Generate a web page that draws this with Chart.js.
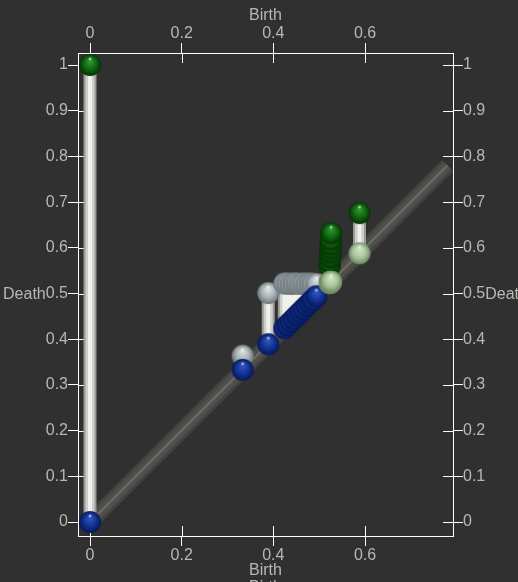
<!DOCTYPE html>
<html>
<head>
<meta charset="utf-8">
<script src="https://cdn.jsdelivr.net/npm/chart.js@4"></script>
<style>
    html, body { margin: 0; padding: 0; background: #303030; }
    #wrap { width: 518px; height: 582px; }
</style>
</head>
<body>
<div id="wrap"><canvas id="diagram" width="518" height="582"></canvas></div>
<script>
// axis ticks
const xTicks = [0, 0.2, 0.4, 0.6];
const yTicks = [0, 0.1, 0.2, 0.3, 0.4, 0.5, 0.6, 0.7, 0.8, 0.9, 1];

// diagonal extent
const diagonalEnd = 0.78;

// global pair (minimum - maximum)
const globalBirth = [0];
const globalDeath = [1];

// minimum - saddle pairs
const minSaddleBirth = [0.333, 0.389, 0.424, 0.431, 0.438, 0.445, 0.452, 0.459, 0.466, 0.473, 0.480, 0.486, 0.494];
const minSaddleDeath = [0.364, 0.501, 0.522, 0.522, 0.521, 0.522, 0.522, 0.521, 0.522, 0.521, 0.522, 0.521, 0.521];

// saddle - maximum pairs
const saddleMaxBirth = [0.523, 0.523, 0.524, 0.524, 0.525, 0.525, 0.525, 0.526, 0.588];
const saddleMaxDeath = [0.560, 0.570, 0.580, 0.590, 0.599, 0.608, 0.618, 0.632, 0.676];

const textColor = '#b8b8b2';
const tickFont = { family: 'Liberation Sans', size: 16 };

function makeSphere(light, base, dark) {
    const R = 11;
    const size = 24;
    const c = document.createElement('canvas');
    c.width = size;
    c.height = size;
    const g = c.getContext('2d');
    const cx = size / 2, cy = size / 2;
    const grad = g.createRadialGradient(cx, cy - R * 0.4, R * 0.05, cx, cy, R);
    grad.addColorStop(0, light);
    grad.addColorStop(0.6, base);
    grad.addColorStop(1, dark);
    g.fillStyle = grad;
    g.beginPath();
    g.arc(cx, cy, R, 0, Math.PI * 2);
    g.fill();
    g.fillStyle = 'rgba(255,255,255,0.6)';
    g.beginPath();
    g.arc(cx, cy - R * 0.55, 1.4, 0, Math.PI * 2);
    g.fill();
    return c;
}

const blueBall = makeSphere('#3556bd', '#11318f', '#061856');
const greenBall = makeSphere('#339a33', '#0d630d', '#053005');
const grayBall = makeSphere('#dde2e4', '#a6b0b4', '#6a7377');
const paleBall = makeSphere('#d2e6c6', '#a6c298', '#6a8862');

const allBirth = globalBirth.concat(minSaddleBirth, saddleMaxBirth);
const allDeath = globalDeath.concat(minSaddleDeath, saddleMaxDeath);

function tubePoints() {
    const pts = [];
    allBirth.forEach((b, i) => {
        pts.push({ x: b, y: b }, { x: b, y: allDeath[i] }, { x: b, y: null });
    });
    return pts;
}

function onDiagonal(births) {
    return births.map(b => ({ x: b, y: b }));
}

function pairs(births, deaths) {
    return births.map((b, i) => ({ x: b, y: deaths[i] }));
}

function lineSet(data, color, width, order) {
    return {
        type: 'line',
        data: data,
        borderColor: color,
        borderWidth: width,
        borderCapStyle: 'butt',
        pointRadius: 0,
        spanGaps: false,
        fill: false,
        clip: false,
        order: order
    };
}

function ballSet(data, ball, order) {
    return {
        type: 'scatter',
        data: data,
        pointStyle: ball,
        pointRadius: 10,
        clip: false,
        order: order
    };
}

const diag = [{ x: 0, y: 0 }, { x: diagonalEnd, y: diagonalEnd }];

const extras = {
    id: 'extras',
    beforeDatasetsDraw(chart) {
        const { ctx, chartArea: a, scales } = chart;
        ctx.save();
        ctx.strokeStyle = '#ffffff';
        ctx.lineWidth = 1;
        ctx.beginPath();
        xTicks.forEach(v => {
            const px = Math.round(scales.x.getPixelForValue(v)) + 0.5;
            ctx.moveTo(px, a.bottom);
            ctx.lineTo(px, a.bottom - 10);
            ctx.moveTo(px, a.top);
            ctx.lineTo(px, a.top + 10);
        });
        yTicks.forEach(v => {
            const py = Math.round(scales.y.getPixelForValue(v)) + 0.5;
            ctx.moveTo(a.left, py);
            ctx.lineTo(a.left + 10, py);
            ctx.moveTo(a.right, py);
            ctx.lineTo(a.right - 10, py);
        });
        ctx.stroke();
        ctx.restore();
    },
    afterDraw(chart) {
        const { ctx, chartArea: a } = chart;
        ctx.save();
        ctx.font = '16px "Liberation Sans"';
        ctx.fillStyle = textColor;
        ctx.textBaseline = 'alphabetic';
        const midX = (a.left + a.right) / 2;
        const midY = (a.top + a.bottom) / 2;
        ctx.textAlign = 'center';
        ctx.fillText('Birth', midX, 20);
        ctx.fillText('Birth', midX, chart.height - 7);
        ctx.fillText('Birth', midX, chart.height + 10);
        const w = ctx.measureText('0.5').width;
        ctx.textAlign = 'right';
        ctx.fillText('Death', a.left - 10 - w, midY + 4);
        ctx.textAlign = 'left';
        ctx.fillText('Death', a.right + 10 + w, midY + 4);
        ctx.restore();
    }
};

function axis(position, min, max, ticks, size) {
    const horizontal = position === 'top' || position === 'bottom';
    return {
        type: 'linear',
        position: position,
        display: true,
        min: min,
        max: max,
        afterBuildTicks: s => { s.ticks = ticks.map(v => ({ value: v })); },
        afterFit: s => {
            if (horizontal) s.height = size;
            else s.width = size;
        },
        grid: {
            drawOnChartArea: false,
            drawTicks: true,
            tickLength: 10,
            color: '#ffffff',
            lineWidth: 1
        },
        border: { display: true, color: '#ffffff', width: 1 },
        ticks: {
            autoSkip: false,
            maxRotation: 0,
            padding: 0,
            color: textColor,
            font: tickFont,
            callback: v => String(v)
        }
    };
}

const xMin = -0.0262, xMax = 0.792;
const yMin = -0.0306, yMax = 1.0263;

new Chart(document.getElementById('diagram'), {
    type: 'scatter',
    data: {
        datasets: [
            lineSet(diag, '#434341', 16, 20),
            lineSet(diag, '#504f4c', 10, 19),
            lineSet(diag, '#6c6c68', 2, 18),
            lineSet(tubePoints(), '#9a9a96', 13, 15),
            lineSet(tubePoints(), '#cdcdc9', 9, 14),
            lineSet(tubePoints(), '#f0f0ec', 4, 13),
            ballSet(pairs(minSaddleBirth, minSaddleDeath), grayBall, 6),
            ballSet(pairs(saddleMaxBirth, saddleMaxDeath), greenBall, 5),
            ballSet(pairs(globalBirth, globalDeath), greenBall, 5),
            ballSet(onDiagonal(minSaddleBirth), blueBall, 2),
            ballSet(onDiagonal(globalBirth), blueBall, 2),
            ballSet(onDiagonal(saddleMaxBirth), paleBall, 1)
        ]
    },
    options: {
        responsive: false,
        animation: false,
        events: [],
        layout: { padding: 0 },
        plugins: {
            legend: { display: false },
            tooltip: { enabled: false }
        },
        scales: {
            x: axis('bottom', xMin, xMax, xTicks, 46),
            x2: axis('top', xMin, xMax, xTicks, 53),
            y: axis('left', yMin, yMax, yTicks, 78),
            y2: axis('right', yMin, yMax, yTicks, 65)
        }
    },
    plugins: [extras]
});
</script>
</body>
</html>
